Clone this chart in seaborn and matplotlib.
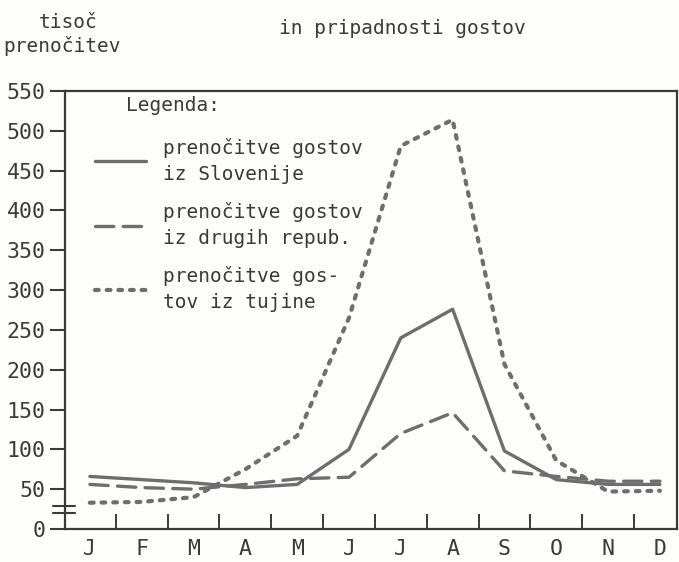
import numpy as np
import pandas as pd
import matplotlib
matplotlib.use("Agg")
import matplotlib.pyplot as plt
import seaborn as sns

# monthly overnight stays, thousands
months = ['J', 'F', 'M', 'A', 'M', 'J', 'J', 'A', 'S', 'O', 'N', 'D']
slovenija = [66, 62, 58, 52, 56, 100, 240, 276, 98, 62, 56, 56]
druge_republike = [56, 52, 50, 56, 63, 65, 120, 146, 73, 66, 60, 60]
tujina = [33, 34, 40, 75, 117, 265, 481, 514, 207, 86, 47, 48]

legend_labels = ['prenočitve gostov\niz Slovenije',
                 'prenočitve gostov\niz drugih repub.',
                 'prenočitve gos-\ntov iz tujine']
y_ticks = list(range(0, 551, 50))

sns.set_theme(style='white')
plt.rcParams['font.family'] = ['DejaVu Sans Mono', 'DejaVu Sans']

ink = '#3a3a3a'
line_col = '#6e6e6e'
bg = '#fdfdfb'

fig = plt.figure(figsize=(6.79, 5.62), dpi=100, facecolor=bg)
ax = fig.add_axes([65 / 679, 1 - 529 / 562, 612 / 679, 438 / 562])
ax.set_facecolor(bg)

x = np.arange(len(months))
df = pd.DataFrame({'x': x, 'slo': slovenija, 'rep': druge_republike, 'tuj': tujina})

sns.lineplot(data=df, x='x', y='slo', ax=ax, color=line_col, lw=2.4,
             label=legend_labels[0])
sns.lineplot(data=df, x='x', y='rep', ax=ax, color=line_col, lw=2.4,
             label=legend_labels[1])
sns.lineplot(data=df, x='x', y='tuj', ax=ax, color=line_col, lw=3.0,
             label=legend_labels[2])
lines = ax.get_lines()
lines[1].set_linestyle((0, (5.5, 2.8)))
lines[2].set_linestyle((0, (0.9, 1.9)))
lines[2].set_dash_capstyle('round')
lines[1].set_dash_capstyle('round')

ax.set_xlim(-0.48, 11.33)
ax.set_ylim(0, 550)
ax.set_xlabel('')
ax.set_ylabel('')

for s in ax.spines.values():
    s.set_color(ink)
    s.set_linewidth(1.6)

ax.set_yticks(y_ticks)
ax.set_yticklabels([str(v) for v in y_ticks])
ax.tick_params(axis='y', direction='out', length=11, width=1.5, color=ink,
               labelsize=15.5, labelcolor=ink, pad=3, left=True)

ax.set_xticks(x)
ax.set_xticklabels(months)
ax.set_xticks(x[:-1] + 0.5, minor=True)
ax.tick_params(axis='x', which='major', length=0, labelsize=15.5,
               labelcolor=ink, pad=7)
ax.tick_params(axis='x', which='minor', direction='in', length=11,
               width=1.4, color=ink, bottom=True)

# axis break mark
for yy in (0.037, 0.052):
    ax.plot([-0.02, 0.016], [yy, yy], transform=ax.transAxes, color=ink,
            lw=1.5, clip_on=False)

leg = ax.legend(loc='upper left', bbox_to_anchor=(0.049, 0.893),
                frameon=False, fontsize=14, handlelength=2.6,
                handletextpad=0.9, labelspacing=0.95, borderaxespad=0,
                borderpad=0)
for t in leg.get_texts():
    t.set_color(ink)
    t.set_linespacing(1.45)

ax.text(0.1, 0.968, 'Legenda:', transform=ax.transAxes, fontsize=14,
        color=ink, ha='left', va='center')

fig.text(68 / 679, 1 - 22 / 562, 'tisoč', fontsize=14, color=ink,
         ha='center', va='center')
fig.text(62 / 679, 1 - 46 / 562, 'prenočitev', fontsize=14, color=ink,
         ha='center', va='center')
fig.text(402 / 679, 1 - 28 / 562, 'in pripadnosti gostov', fontsize=14,
         color=ink, ha='center', va='center')

fig.savefig('out.png', dpi=100, facecolor=bg)
